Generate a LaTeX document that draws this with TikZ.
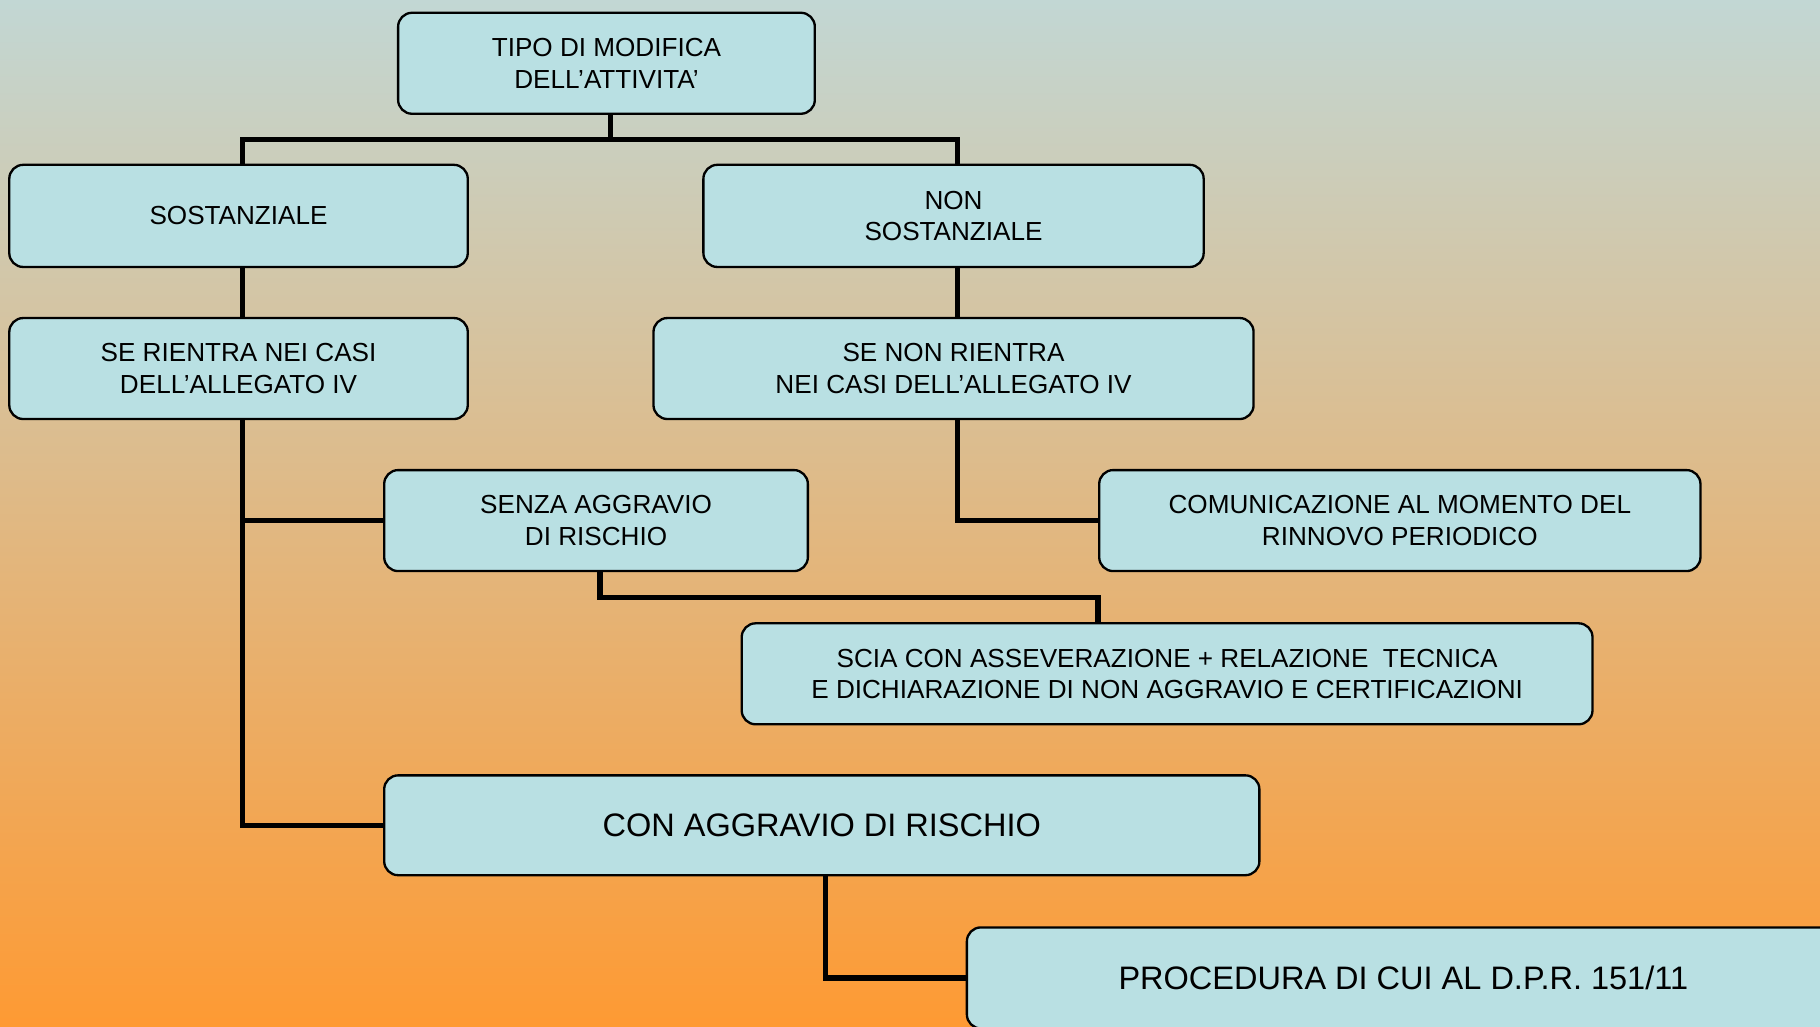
\documentclass[tikz,border=0pt]{standalone}
\usepackage{fontspec}
\setmainfont{Liberation Sans}
\definecolor{bgtop}{RGB}{194,215,212}
\definecolor{bgmid}{RGB}{229,187,153}
\definecolor{bgbot}{RGB}{254,154,51}
\definecolor{boxfill}{RGB}{185,224,227}
\tikzset{
  box/.style={draw=black, line width=2pt, fill=boxfill, rounded corners=12pt,
    align=center, inner sep=0pt, font=\fontsize{22.5}{27}\selectfont},
  bigbox/.style={box, font=\fontsize{28}{33}\selectfont},
  link/.style={draw=black, line width=4.5pt, line join=miter}
}
\begin{document}
\begin{tikzpicture}[x=1pt,y=-1pt]
\useasboundingbox (0,0) rectangle (1568,884);
\clip (0,0) rectangle (1568,884);
\shade[top color=bgtop, middle color=bgmid, bottom color=bgbot] (0,0) rectangle (1568,884);

\coordinate (c1) at (526,120);
\coordinate (c2) at (209,120);
\coordinate (c3) at (825,120);

\node[box, minimum width=359pt, minimum height=87pt] (tipo) at (522.5,54.5) {TIPO DI MODIFICA\\DELL’ATTIVITA’};
\node[box, minimum width=395pt, minimum height=88pt] (sost) at (205.5,186) {SOSTANZIALE};
\node[box, minimum width=431pt, minimum height=88pt] (nonsost) at (821.5,186) {NON\\SOSTANZIALE};
\node[box, minimum width=395pt, minimum height=87pt] (serientra) at (205.5,317.5) {SE RIENTRA NEI CASI\\DELL’ALLEGATO IV};
\node[box, minimum width=517pt, minimum height=87pt] (senon) at (821.5,317.5) {SE NON RIENTRA\\NEI CASI DELL’ALLEGATO IV};
\node[box, minimum width=365pt, minimum height=87pt] (senza) at (513.5,448.5) {SENZA AGGRAVIO\\DI RISCHIO};
\node[box, minimum width=518pt, minimum height=87pt] (comun) at (1206,448.5) {COMUNICAZIONE AL MOMENTO DEL\\RINNOVO PERIODICO};
\node[box, minimum width=733pt, minimum height=87pt] (scia) at (1005.5,580.5) {SCIA CON ASSEVERAZIONE + RELAZIONE\ \ TECNICA\\E DICHIARAZIONE DI NON AGGRAVIO E CERTIFICAZIONI};
\node[bigbox, minimum width=754pt, minimum height=86pt] (con) at (708,711) {CON AGGRAVIO DI RISCHIO};
\node[bigbox, minimum width=752pt, minimum height=87pt] (proc) at (1209,842.5) {PROCEDURA DI CUI AL D.P.R. 151/11};

\draw[link] ([xshift=3.5pt]tipo.south) -- (c1);
\draw[link] ([xshift=3.5pt]sost.north) -- (c2) -- (c3) -- ([xshift=3.5pt]nonsost.north);
\draw[link] ([xshift=3.5pt]sost.south) -- ([xshift=3.5pt]serientra.north);
\draw[link] ([xshift=3.5pt]nonsost.south) -- ([xshift=3.5pt]senon.north);
\draw[link] ([xshift=3.5pt]serientra.south) |- (con.west);
\draw[link] (senza.west) -- (senza.west -| c2);
\draw[link] ([xshift=3.5pt]senon.south) |- (comun.west);
\draw[link] ([xshift=3.5pt]senza.south) -- ++(0,22) -| ([xshift=-59.5pt]scia.north);
\draw[link] ([xshift=3pt]con.south) |- (proc.west);
\end{tikzpicture}
\end{document}
